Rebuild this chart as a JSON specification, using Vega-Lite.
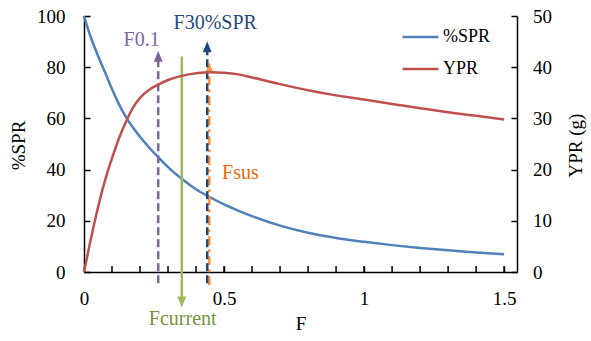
{
  "$schema": "https://vega.github.io/schema/vega-lite/v6.json",
  "width": 433,
  "height": 256,
  "autosize": {"type": "none"},
  "padding": {"left": 84, "top": 16, "right": 74, "bottom": 69},
  "background": "white",
  "config": {
    "view": {"stroke": null},
    "font": "Liberation Serif",
    "axis": {
      "grid": false,
      "domainColor": "#000000",
      "domainWidth": 1.5,
      "tickColor": "#000000",
      "tickWidth": 1.5,
      "tickSize": -6,
      "labelColor": "#000000",
      "labelFont": "Liberation Serif",
      "labelFontSize": 19,
      "titleFont": "Liberation Serif",
      "titleFontSize": 19,
      "titleFontWeight": "normal",
      "titleColor": "#000000",
      "labelOverlap": false,
      "labelFlush": false
    },
    "legend": {
      "labelFont": "Liberation Serif",
      "labelFontSize": 18,
      "labelColor": "#000000"
    }
  },
  "datasets": {
    "curves": [
      {"F": 0, "series": "%SPR", "value": 100},
      {"F": 0.025, "series": "%SPR", "value": 91.5},
      {"F": 0.05, "series": "%SPR", "value": 84.5},
      {"F": 0.075, "series": "%SPR", "value": 78},
      {"F": 0.1, "series": "%SPR", "value": 71.5},
      {"F": 0.125, "series": "%SPR", "value": 65.5},
      {"F": 0.15, "series": "%SPR", "value": 60.5},
      {"F": 0.2, "series": "%SPR", "value": 52.8},
      {"F": 0.25, "series": "%SPR", "value": 46.5},
      {"F": 0.3, "series": "%SPR", "value": 41},
      {"F": 0.35, "series": "%SPR", "value": 36.3},
      {"F": 0.4, "series": "%SPR", "value": 32.3},
      {"F": 0.45, "series": "%SPR", "value": 29.2},
      {"F": 0.5, "series": "%SPR", "value": 26.4},
      {"F": 0.55, "series": "%SPR", "value": 24},
      {"F": 0.6, "series": "%SPR", "value": 21.8},
      {"F": 0.7, "series": "%SPR", "value": 18.1},
      {"F": 0.8, "series": "%SPR", "value": 15.3},
      {"F": 0.9, "series": "%SPR", "value": 13.3},
      {"F": 1.0, "series": "%SPR", "value": 11.8},
      {"F": 1.1, "series": "%SPR", "value": 10.5},
      {"F": 1.2, "series": "%SPR", "value": 9.4},
      {"F": 1.3, "series": "%SPR", "value": 8.5},
      {"F": 1.4, "series": "%SPR", "value": 7.6},
      {"F": 1.5, "series": "%SPR", "value": 6.9},
      {"F": 0, "series": "YPR", "value": 0},
      {"F": 0.02, "series": "YPR", "value": 5.3},
      {"F": 0.043, "series": "YPR", "value": 11.0},
      {"F": 0.065, "series": "YPR", "value": 15.9},
      {"F": 0.086, "series": "YPR", "value": 19.9},
      {"F": 0.105, "series": "YPR", "value": 23.0},
      {"F": 0.12, "series": "YPR", "value": 25.4},
      {"F": 0.135, "series": "YPR", "value": 27.5},
      {"F": 0.152, "series": "YPR", "value": 29.6},
      {"F": 0.175, "series": "YPR", "value": 32.1},
      {"F": 0.2, "series": "YPR", "value": 34.0},
      {"F": 0.23, "series": "YPR", "value": 35.5},
      {"F": 0.265, "series": "YPR", "value": 36.6},
      {"F": 0.3, "series": "YPR", "value": 37.5},
      {"F": 0.349, "series": "YPR", "value": 38.3},
      {"F": 0.4, "series": "YPR", "value": 38.8},
      {"F": 0.45, "series": "YPR", "value": 39.0},
      {"F": 0.5, "series": "YPR", "value": 38.9},
      {"F": 0.55, "series": "YPR", "value": 38.6},
      {"F": 0.6, "series": "YPR", "value": 38.0},
      {"F": 0.7, "series": "YPR", "value": 36.7},
      {"F": 0.8, "series": "YPR", "value": 35.5},
      {"F": 0.9, "series": "YPR", "value": 34.5},
      {"F": 1.0, "series": "YPR", "value": 33.7},
      {"F": 1.1, "series": "YPR", "value": 32.8},
      {"F": 1.2, "series": "YPR", "value": 32.0},
      {"F": 1.3, "series": "YPR", "value": 31.2},
      {"F": 1.4, "series": "YPR", "value": 30.5},
      {"F": 1.5, "series": "YPR", "value": 29.8}
    ],
    "refs": [
      {"name": "F0.1", "F": 0.265, "lo": -4.4, "hi": 84.3},
      {"name": "Fcurrent", "F": 0.349, "lo": -11.7, "hi": 84.2},
      {"name": "F30%SPR", "F": 0.44, "lo": -4.4, "hi": 88.0},
      {"name": "Fsus", "F": 0.4475, "lo": -5.2, "hi": 79.9}
    ],
    "xticks": [
      {"F": 0.1}, {"F": 0.2}, {"F": 0.3}, {"F": 0.4}, {"F": 0.5},
      {"F": 0.6}, {"F": 0.7}, {"F": 0.8}, {"F": 0.9}, {"F": 1.0},
      {"F": 1.1}, {"F": 1.2}, {"F": 1.3}, {"F": 1.4}, {"F": 1.5}
    ]
  },
  "layer": [
    {
      "layer": [
        {
          "data": {"name": "curves"},
          "transform": [{"filter": "datum.series === '%SPR'"}],
          "mark": {"type": "line", "strokeWidth": 2.5, "interpolate": "monotone"},
          "encoding": {
            "x": {
              "field": "F", "type": "quantitative", "title": "F",
              "scale": {"domain": [0, 1.546], "nice": false, "zero": false},
              "axis": {
                "values": [0, 0.5, 1, 1.5],
                "labelExpr": "format(datum.value, '~g')",
                "labelOverlap": false,
                "labelPadding": 23.5,
                "titleX": 216.5, "titleY": 51.3, "titleBaseline": "middle", "titleAlign": "center"
              }
            },
            "y": {
              "field": "value", "type": "quantitative", "title": "%SPR",
              "scale": {"domain": [0, 100], "nice": false},
              "axis": {
                "orient": "left",
                "values": [0, 20, 40, 60, 80, 100],
                "labelOverlap": false,
                "labelPadding": 25,
                "titleX": -65.5, "titleY": 129, "titleAngle": -90, "titleBaseline": "middle", "titleAlign": "center"
              }
            },
            "color": {
              "field": "series", "type": "nominal",
              "scale": {"domain": ["%SPR", "YPR"], "range": ["#4F81BD", "#C0504D"]},
              "legend": {
                "title": null,
                "orient": "none",
                "legendX": 317,
                "legendY": 11,
                "padding": 0,
                "symbolType": "stroke",
                "symbolSize": 1296,
                "symbolStrokeWidth": 2.5,
                "clipHeight": 20,
                "rowPadding": 12,
                "labelOffset": 3
              }
            }
          }
        },
        {
          "data": {"name": "xticks"},
          "mark": {"type": "tick", "orient": "vertical", "size": 6, "thickness": 1.5, "color": "#000000", "opacity": 1, "yOffset": -3, "clip": false},
          "encoding": {
            "x": {"field": "F", "type": "quantitative", "title": "F"},
            "y": {"datum": 0, "type": "quantitative", "title": "%SPR"}
          }
        },
        {
          "data": {"name": "refs"},
          "transform": [{"filter": "datum.name === 'F0.1'"}],
          "layer": [
            {"mark": {"type": "rule", "color": "#8064A2", "strokeWidth": 2.5, "strokeDash": [8, 4], "clip": false},
             "encoding": {"x": {"field": "F", "type": "quantitative", "title": "F"}, "y": {"field": "lo", "type": "quantitative", "title": "%SPR"}, "y2": {"field": "hi"}}},
            {"mark": {"type": "point", "shape": "M0,-1L0.8,1L-0.8,1Z", "size": 121, "filled": true, "opacity": 1, "color": "#8064A2", "clip": false},
             "encoding": {"x": {"field": "F", "type": "quantitative", "title": "F"}, "y": {"field": "hi", "type": "quantitative", "title": "%SPR"}}},
            {"mark": {"type": "text", "color": "#8064A2", "fontSize": 20, "font": "Liberation Serif", "align": "center", "baseline": "middle", "dx": -16.6, "dy": -16.2, "clip": false},
             "encoding": {"x": {"field": "F", "type": "quantitative", "title": "F"}, "y": {"field": "hi", "type": "quantitative", "title": "%SPR"}, "text": {"field": "name"}}}
          ]
        },
        {
          "data": {"name": "refs"},
          "transform": [{"filter": "datum.name === 'Fcurrent'"}],
          "layer": [
            {"mark": {"type": "rule", "color": "#9BBB59", "strokeWidth": 2.5, "clip": false},
             "encoding": {"x": {"field": "F", "type": "quantitative", "title": "F"}, "y": {"field": "lo", "type": "quantitative", "title": "%SPR"}, "y2": {"field": "hi"}}},
            {"mark": {"type": "point", "shape": "M0,1L0.8,-1L-0.8,-1Z", "size": 121, "filled": true, "opacity": 1, "color": "#9BBB59", "clip": false},
             "encoding": {"x": {"field": "F", "type": "quantitative", "title": "F"}, "y": {"field": "lo", "type": "quantitative", "title": "%SPR"}}},
            {"mark": {"type": "text", "color": "#77933C", "fontSize": 20, "font": "Liberation Serif", "align": "center", "baseline": "middle", "dx": 1, "dy": 17, "clip": false},
             "encoding": {"x": {"field": "F", "type": "quantitative", "title": "F"}, "y": {"field": "lo", "type": "quantitative", "title": "%SPR"}, "text": {"field": "name"}}}
          ]
        },
        {
          "data": {"name": "refs"},
          "transform": [{"filter": "datum.name === 'Fsus'"}],
          "layer": [
            {"mark": {"type": "rule", "color": "#F79646", "strokeWidth": 2.5, "strokeDash": [9, 4, 3, 4], "clip": false},
             "encoding": {"x": {"field": "F", "type": "quantitative", "title": "F"}, "y": {"field": "lo", "type": "quantitative", "title": "%SPR"}, "y2": {"field": "hi"}}},
            {"mark": {"type": "point", "shape": "M0,-1L0.8,1L-0.8,1Z", "size": 100, "filled": true, "opacity": 1, "color": "#F79646", "clip": false},
             "encoding": {"x": {"field": "F", "type": "quantitative", "title": "F"}, "y": {"field": "hi", "type": "quantitative", "title": "%SPR"}}},
            {"mark": {"type": "text", "color": "#E46C0A", "fontSize": 20, "font": "Liberation Serif", "align": "left", "baseline": "middle", "dx": 12.7, "dy": 105.5, "clip": false},
             "encoding": {"x": {"field": "F", "type": "quantitative", "title": "F"}, "y": {"field": "hi", "type": "quantitative", "title": "%SPR"}, "text": {"field": "name"}}}
          ]
        },
        {
          "data": {"name": "refs"},
          "transform": [{"filter": "datum.name === 'F30%SPR'"}],
          "layer": [
            {"mark": {"type": "rule", "color": "#1F497D", "strokeWidth": 2.5, "strokeDash": [8, 4], "clip": false},
             "encoding": {"x": {"field": "F", "type": "quantitative", "title": "F"}, "y": {"field": "lo", "type": "quantitative", "title": "%SPR"}, "y2": {"field": "hi"}}},
            {"mark": {"type": "point", "shape": "M0,-1L0.8,1L-0.8,1Z", "size": 121, "filled": true, "opacity": 1, "color": "#1F497D", "clip": false},
             "encoding": {"x": {"field": "F", "type": "quantitative", "title": "F"}, "y": {"field": "hi", "type": "quantitative", "title": "%SPR"}}},
            {"mark": {"type": "text", "color": "#1F497D", "fontSize": 20, "font": "Liberation Serif", "align": "center", "baseline": "middle", "dx": 8, "dy": -23.7, "clip": false},
             "encoding": {"x": {"field": "F", "type": "quantitative", "title": "F"}, "y": {"field": "hi", "type": "quantitative", "title": "%SPR"}, "text": {"field": "name"}}}
          ]
        }
      ]
    },
    {
      "data": {"name": "curves"},
      "transform": [{"filter": "datum.series === 'YPR'"}],
      "mark": {"type": "line", "strokeWidth": 2.5, "interpolate": "monotone"},
      "encoding": {
        "x": {
          "field": "F", "type": "quantitative", "title": "F",
          "scale": {"domain": [0, 1.546], "nice": false, "zero": false},
          "axis": {
            "values": [0, 0.5, 1, 1.5],
            "labelExpr": "format(datum.value, '~g')",
            "labelOverlap": false,
            "labelPadding": 23.5,
            "titleX": 216.5, "titleY": 51.3, "titleBaseline": "middle", "titleAlign": "center"
          }
        },
        "y": {
          "field": "value", "type": "quantitative", "title": "YPR (g)",
          "scale": {"domain": [0, 50], "nice": false},
          "axis": {
            "orient": "right",
            "values": [0, 10, 20, 30, 40, 50],
            "labelOverlap": false,
            "labelPadding": 21.5,
            "titleX": 58, "titleY": 129, "titleAngle": -90, "titleBaseline": "middle", "titleAlign": "center"
          }
        },
        "color": {"field": "series", "type": "nominal"}
      }
    }
  ],
  "resolve": {"scale": {"y": "independent"}}
}
